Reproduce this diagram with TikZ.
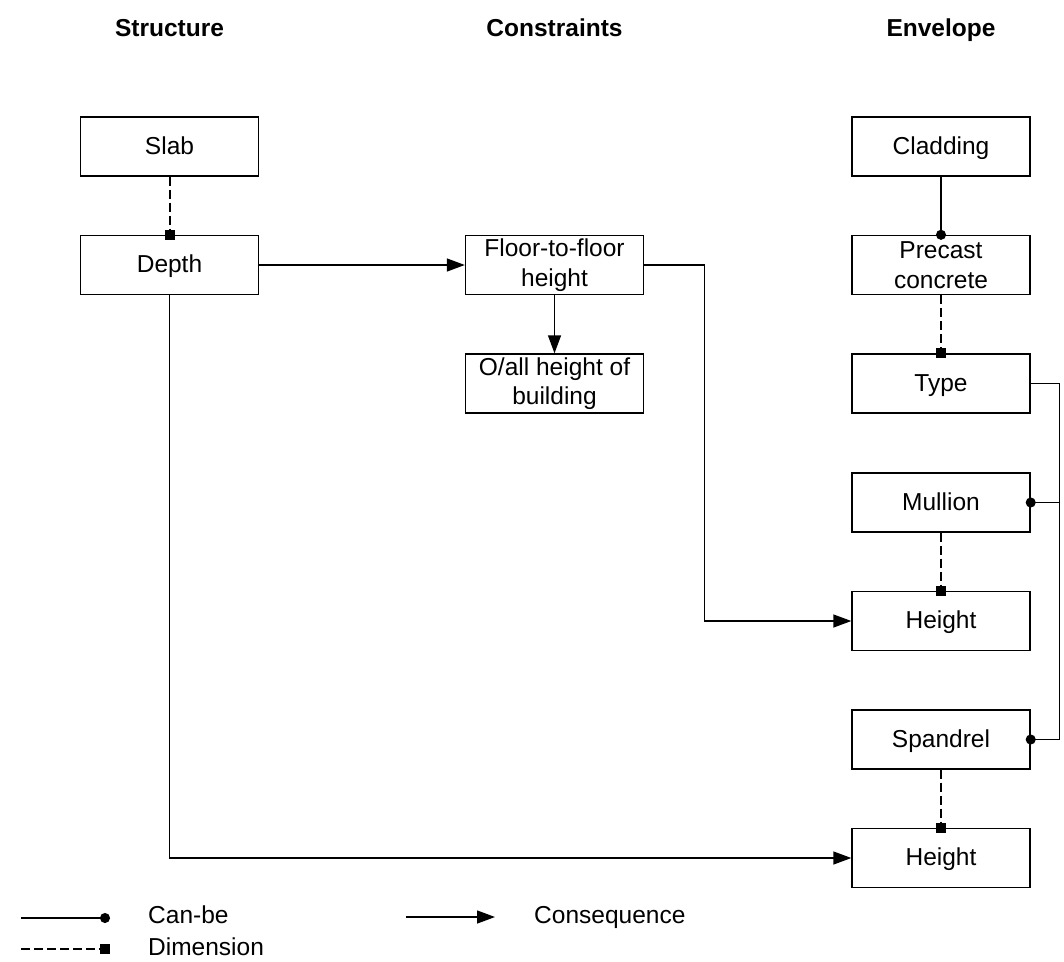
\documentclass[tikz,border=0pt]{standalone}
\usepackage{fontspec}
\setmainfont{Liberation Sans}
\usetikzlibrary{arrows.meta}
\begin{document}
\begin{tikzpicture}[x=1pt,y=-1pt,
  txt/.style={font=\fontsize{24.5}{29.4}\selectfont},
  head/.style={font=\fontsize{24.5}{29.4}\selectfont\bfseries, anchor=base, inner sep=0pt},
  box/.style={draw, line width=1.4pt, minimum width=178pt, minimum height=59pt,
    inner sep=0pt, align=center, txt},
  one/.style={text height=19.6pt, text depth=4pt},
  conn/.style={line width=1.4pt},
  canbe/.style={conn, -{Circle[length=10pt]}, shorten >=-5pt},
  conseq/.style={conn, -{Triangle[length=18pt,width=13pt]}},
  dimen/.style={line width=2pt, dash pattern=on 9pt off 4pt,
    -{Square[length=10pt]}, shorten >=-5pt},
  lbl/.style={anchor=base west, inner sep=0pt, txt}]
\path[use as bounding box] (0,0) rectangle (1064,961);

% column headings
\node[head] (hs) at (169.5,36) {Structure};
\node[head] (hc) at (554.5,36) {Constraints};
\node[head] (he) at (941,36) {Envelope};

% structure column
\node[box,one] (slab)  at (169.5,146.5) {Slab};
\node[box,one] (depth) at (169.5,265) {Depth};

% constraints column
\node[box] (ff)   at (554.5,265) {Floor-to-floor\\height};
\node[box] (oall) at (554.5,383.5) {O/all height of\\building};

% envelope column
\node[box,one] (clad)  at (941,146.5) {Cladding};
\node[box]     (prec)  at (941,265) {Precast\\concrete};
\node[box,one] (type)  at (941,383.5) {Type};
\node[box,one] (mull)  at (941,502.5) {Mullion};
\node[box,one] (hgt1)  at (941,621) {Height};
\node[box,one] (spand) at (941,739.5) {Spandrel};
\node[box,one] (hgt2)  at (941,858) {Height};

% dimension links
\draw[dimen] (slab.south) -- (depth.north);
\draw[dimen] (prec.south) -- (type.north);
\draw[dimen] (mull.south) -- (hgt1.north);
\draw[dimen] (spand.south) -- (hgt2.north);

% can-be links
\draw[canbe] (clad.south) -- (prec.north);
\coordinate (bus) at ([xshift=29pt]type.east);
\draw[conn] (type.east) -- (bus);
\draw[canbe] (bus) |- (mull.east);
\draw[canbe] (bus) |- (spand.east);

% consequence links
\draw[conseq] (depth.east) -- (ff.west |- depth.east);
\draw[conseq] (ff.south) -- (oall.north);
\coordinate (ffturn) at ([xshift=60pt]ff.east);
\draw[conseq] (ff.east) -- (ffturn) |- (hgt1.west);
\draw[conseq] (depth.south) |- (hgt2.west);

% legend
\coordinate (lc1) at (21,918);  \coordinate (lc2) at (110,918);
\coordinate (ld1) at (21,949);  \coordinate (ld2) at (110,949);
\coordinate (lq1) at (406,917); \coordinate (lq2) at (495,917);
\draw[conn, -{Circle[length=10pt]}] (lc1) -- (lc2);
\draw[line width=2pt, dash pattern=on 9pt off 4pt, -{Square[length=10pt]}] (ld1) -- (ld2);
\draw[conseq] (lq1) -- (lq2);
\node[lbl] (lcan) at (148,923) {Can-be};
\node[lbl] (ldim) at (148,955) {Dimension};
\node[lbl] (lcon) at (534,923) {Consequence};
\end{tikzpicture}
\end{document}
